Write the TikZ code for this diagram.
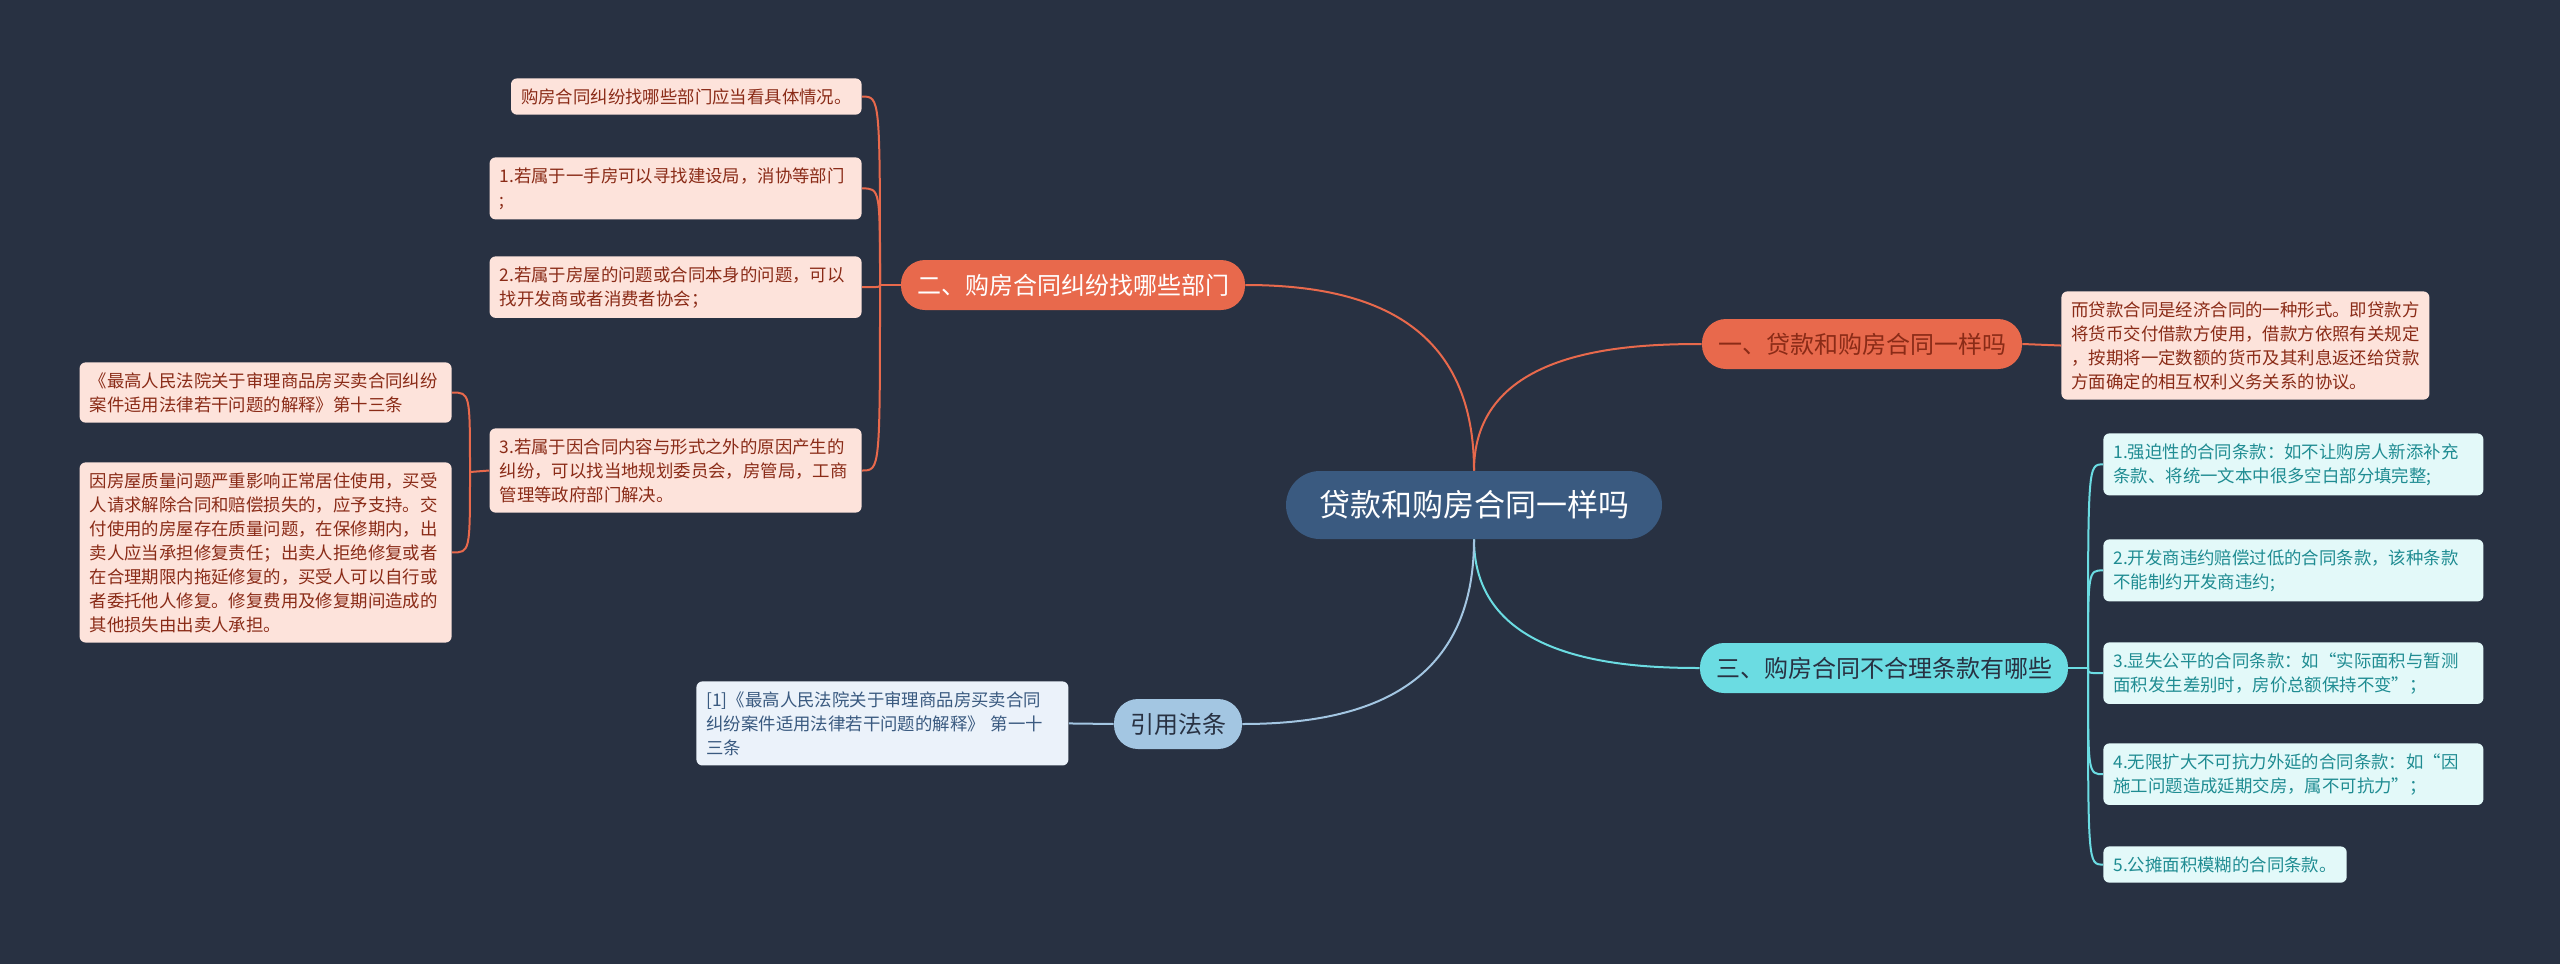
\documentclass[tikz,border=0pt]{standalone}
\usepackage{fontspec}
\setmainfont{Noto Sans CJK SC}
\usepackage{tikz}
\usetikzlibrary{positioning}
\definecolor{bgc}{HTML}{283142}
\definecolor{orm}{HTML}{E8694C}
\definecolor{orl}{HTML}{FDE3DB}
\definecolor{ort}{HTML}{8A2B17}
\definecolor{cym}{HTML}{6BDCE2}
\definecolor{cyl}{HTML}{E3F9F9}
\definecolor{cyt}{HTML}{1F8C92}
\definecolor{blm}{HTML}{A3C6E2}
\definecolor{bll}{HTML}{EBF2FA}
\definecolor{blt}{HTML}{3A5A80}
\definecolor{ctr}{HTML}{3A5A80}
\tikzset{
  root/.style={fill=ctr,text=white,rounded corners=17pt,font=\fontsize{15.5pt}{18pt}\selectfont,minimum width=188pt,minimum height=34pt},
  branch/.style={rounded corners=12pt,font=\fontsize{12pt}{14pt}\selectfont,minimum height=25pt,inner xsep=8pt},
  leaf/.style={rounded corners=3pt,font=\fontsize{8.7pt}{12pt}\selectfont,align=left,inner xsep=5pt,inner ysep=5pt,anchor=north west},
  leafo/.style={leaf,fill=orl,text=ort},
  leafc/.style={leaf,fill=cyl,text=cyt},
  leafb/.style={leaf,fill=bll,text=blt},
  linko/.style={draw=orm,line width=1pt},
  linkc/.style={draw=cym,line width=1pt},
  linkb/.style={draw=blm,line width=1pt}
}
\begin{document}
\begin{tikzpicture}[x=0.5pt,y=-0.5pt]
\useasboundingbox[fill=bgc] (0,0) rectangle (2560,964);
% center and branches
\node[root] (c) at (1474,505) {贷款和购房合同一样吗};
\node[branch,fill=orm,text=ort] (b1) at (1862,344) {一、贷款和购房合同一样吗};
\node[branch,fill=orm,text=white] (b2) at (1073,285) {二、购房合同纠纷找哪些部门};
\node[branch,fill=cym,text=bgc] (b3) at (1884,668) {三、购房合同不合理条款有哪些};
\node[branch,fill=blm,text=bgc] (b4) at (1178,724) {引用法条};
% leaves of b1
\node[leafo] (a1) at (2061,291) {而贷款合同是经济合同的一种形式。即贷款方\\将货币交付借款方使用，借款方依照有关规定\\，按期将一定数额的货币及其利息返还给贷款\\方面确定的相互权利义务关系的协议。};
% leaves of b2
\node[leafo,anchor=north east] (l0) at (862,78) {购房合同纠纷找哪些部门应当看具体情况。};
\node[leafo,anchor=north east,text width=176pt] (l1) at (862,157) {1.若属于一手房可以寻找建设局，消协等部门\\;};
\node[leafo,anchor=north east,text width=176pt] (l2) at (862,256) {2.若属于房屋的问题或合同本身的问题，可以\\找开发商或者消费者协会；};
\node[leafo,anchor=north east,text width=176pt] (l3) at (862,428) {3.若属于因合同内容与形式之外的原因产生的\\纠纷，可以找当地规划委员会，房管局，工商\\管理等政府部门解决。};
\node[leafo,anchor=north east,text width=176pt] (k1) at (452,362) {《最高人民法院关于审理商品房买卖合同纠纷\\案件适用法律若干问题的解释》第十三条};
\node[leafo,anchor=north east,text width=176pt] (k2) at (452,462) {因房屋质量问题严重影响正常居住使用，买受\\人请求解除合同和赔偿损失的，应予支持。交\\付使用的房屋存在质量问题，在保修期内，出\\卖人应当承担修复责任；出卖人拒绝修复或者\\在合理期限内拖延修复的，买受人可以自行或\\者委托他人修复。修复费用及修复期间造成的\\其他损失由出卖人承担。};
% leaves of b3
\node[leafc,text width=180pt] (r1) at (2103,433) {1.强迫性的合同条款：如不让购房人新添补充\\条款、将统一文本中很多空白部分填完整;};
\node[leafc,text width=180pt] (r2) at (2103,539) {2.开发商违约赔偿过低的合同条款，该种条款\\不能制约开发商违约;};
\node[leafc,text width=180pt] (r3) at (2103,642) {3.显失公平的合同条款：如“实际面积与暂测\\面积发生差别时，房价总额保持不变”；};
\node[leafc,text width=180pt] (r4) at (2103,743) {4.无限扩大不可抗力外延的合同条款：如“因\\施工问题造成延期交房，属不可抗力”；};
\node[leafc] (r5) at (2103,846) {5.公摊面积模糊的合同条款。};
% leaf of b4
\node[leafb,text width=176pt] (q1) at (696,681) {[1]《最高人民法院关于审理商品房买卖合同\\纠纷案件适用法律若干问题的解释》 第一十\\三条};
% connectors
\draw[linko] (c.north) .. controls +(0,-120) and +(-80,0) .. (b1.west);
\draw[linko] (c.north) .. controls +(0,-150) and +(120,0) .. (b2.east);
\draw[linkc] (c.south) .. controls +(0,120) and +(-80,0) .. (b3.west);
\draw[linkb] (c.south) .. controls +(0,150) and +(120,0) .. (b4.east);
\draw[linko] (b1.east) -- (a1.west);
\draw[linkb] (b4.west) -- (q1.east);
\coordinate (o2) at (880,285);
\draw[linko] (b2.west) -- (o2);
\foreach \n in {l0,l1,l2,l3}
  \draw[linko] (o2) .. controls (o2 |- \n.east) .. (\n.east);
\coordinate (o3) at (470,472);
\draw[linko] (l3.west) -- (o3);
\foreach \n in {k1,k2}
  \draw[linko] (o3) .. controls (o3 |- \n.east) .. (\n.east);
\coordinate (o4) at (2088,668);
\draw[linkc] (b3.east) -- (o4);
\foreach \n in {r1,r2,r3,r4,r5}
  \draw[linkc] (o4) .. controls (o4 |- \n.west) .. (\n.west);
\end{tikzpicture}
\end{document}
